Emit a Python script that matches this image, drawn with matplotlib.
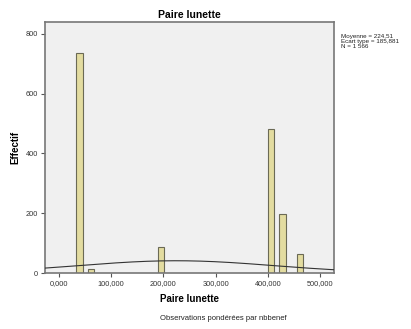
import numpy as np
import matplotlib.pyplot as plt

plt.rcParams['font.family'] = ['Liberation Sans', 'DejaVu Sans']

# histogram bars (bin centre, count)
bin_centers = [39, 61, 195, 406, 428, 462]
counts = [735, 14, 87, 483, 196, 63]
bin_width = 12.2

# summary stats shown at right
mean_val = 224.51
sd_val = 185.881
n_obs = 1566

xticks = [0, 100, 200, 300, 400, 500]
xtick_labels = ['0,000', '100,000', '200,000', '300,000', '400,000', '500,000']
yticks = [0, 200, 400, 600, 800]

fig = plt.figure(figsize=(4.11, 3.29), dpi=100)
ax = fig.add_axes([45 / 411, 1 - 273 / 329, 289 / 411, 251 / 329])
ax.set_facecolor('#f0f0f0')

ax.bar(bin_centers, counts, width=bin_width, color='#e3dca0',
       edgecolor='#6b6a55', linewidth=0.8, zorder=2)

# normal curve fitted on mean / sd, scaled to counts
xs = np.linspace(-30, 530, 300)
ys = n_obs * bin_width / (sd_val * np.sqrt(2 * np.pi)) * np.exp(-(xs - mean_val) ** 2 / (2 * sd_val ** 2))
ax.plot(xs, ys, color='#333333', linewidth=0.8, zorder=3)

ax.set_xlim(-26.8, 526.8)
ax.set_ylim(0, 840)
ax.set_xticks(xticks)
ax.set_xticklabels(xtick_labels)
ax.set_yticks(yticks)
ax.tick_params(labelsize=5.3, length=3, width=0.8, color='#555555', pad=2, labelcolor='#333333')
for s in ax.spines.values():
    s.set_color('#777777')
    s.set_linewidth(1.2)

ax.set_title('Paire lunette', fontsize=7.5, fontweight='bold', pad=3)
ax.set_xlabel('Paire lunette', fontsize=7, fontweight='bold', labelpad=5)
ax.set_ylabel('Effectif', fontsize=7, fontweight='bold', labelpad=4)

fig.text(341 / 411, 1 - 34 / 329,
         'Moyenne = 224,51\nEcart type = 185,881\nN = 1 566',
         fontsize=4.5, va='top', ha='left', color='#222222', linespacing=0.95)
fig.text(223 / 411, 1 - 318 / 329, 'Observations pondérées par nbbenef',
         fontsize=5.5, ha='center', va='center', color='#222222')

fig.savefig('out.png', dpi=100)
